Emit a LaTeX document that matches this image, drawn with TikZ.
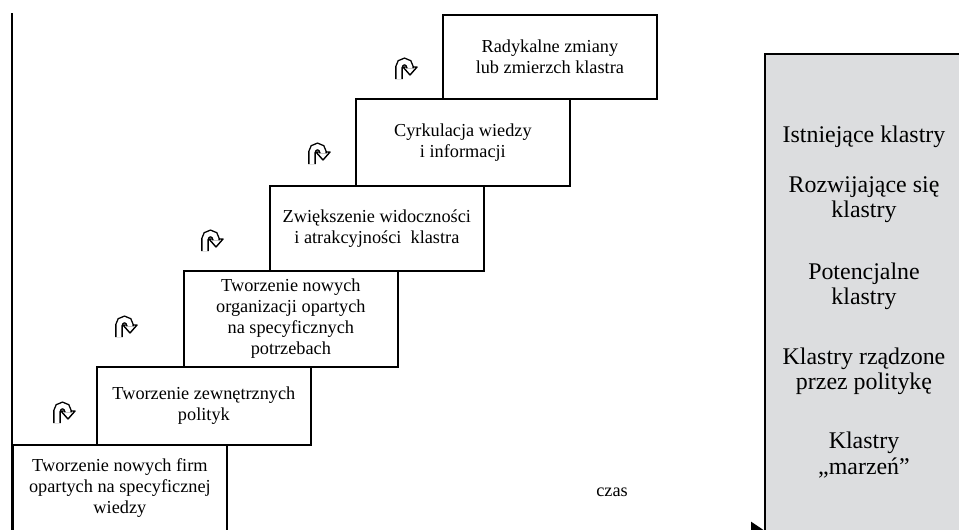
\documentclass[tikz,border=0pt]{standalone}
\usepackage{fontspec}
\setmainfont{Liberation Serif}
\usetikzlibrary{arrows.meta}
\usetikzlibrary{positioning}
\definecolor{panelgray}{RGB}{220,221,223}

\begin{document}
\begin{tikzpicture}
	[x=0.025cm, y=-0.025cm,
	> = {Triangle[length=3.5mm, width=4.6mm]},
	every node/.style = {font=\fontsize{13}{15}\selectfont},
	big/.style = {font=\fontsize{17}{18}\selectfont, align=center},
	stair/.style = {draw, line width=1.2pt, align=center, anchor=north west, minimum width=5.35cm, inner sep=0pt},
	uturn/.pic = {
		\draw[line width=1pt, fill=white, line join=round] (-4,-1) -- (10,-1) -- (3,7) -- cycle;
		\draw[line width=1pt, double=white, double distance=3.4pt] (-8,11) -- (-8,-1) arc[start angle=180, end angle=360, radius=5.5] -- ++(0,1.3);
	}
	]
	\useasboundingbox (0,0) rectangle (959,529);

	\coordinate (o) at (12,531);
	\coordinate (ytop) at (12,13);
	\coordinate (xend) at (765,531);

	% panel on the right
	\draw[line width=1.2pt, fill=panelgray] (765,54) rectangle (990,560);
	\node[big] (istniejace) at (864,137) {Istniejące klastry};
	\node[big] (rozwijajace) at (864,200) {Rozwijające się\\klastry};
	\node[big] (potencjalne) at (864,286) {Potencjalne\\klastry};
	\node[big] (rzadzone) at (864,371) {Klastry rządzone\\przez politykę};
	\node[big] (marzen) at (864,455) {Klastry\\„marzeń”};

	% axes
	\draw[line width=1.2pt] (ytop) -- (o);
	\draw[line width=1.2pt, ->] (o) -- (xend);
	\node (czas) at (612,492) {czas};

	% stairs
	\node[stair, minimum height=2.175cm] (firmy) at (12,444) {Tworzenie nowych firm\\opartych na specyficznej\\wiedzy};
	\node[stair, minimum height=1.95cm] (polityki) at (96,366) {Tworzenie zewnętrznych\\polityk};
	\node[stair, minimum height=2.4cm] (organizacje) at (183,270) {Tworzenie nowych\\organizacji opartych\\na specyficznych\\potrzebach};
	\node[stair, minimum height=2.125cm] (widocznosc) at (269,185) {Zwiększenie widoczności\\i atrakcyjności\ \ klastra};
	\node[stair, minimum height=2.175cm] (wiedza) at (355,98) {Cyrkulacja wiedzy\\i informacji};
	\node[stair, minimum height=2.1cm] (zmiany) at (442,14) {Radykalne zmiany\\lub zmierzch klastra};

	% turn arrows
	\pic at (65,412) {uturn};
	\pic at (127,326) {uturn};
	\pic at (213,240) {uturn};
	\pic at (320,153) {uturn};
	\pic at (407,68) {uturn};
\end{tikzpicture}
\end{document}
